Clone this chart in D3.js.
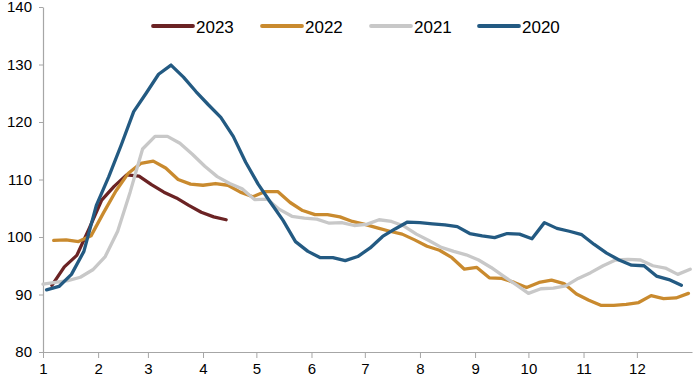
<!DOCTYPE html>
<html>
<head>
<meta charset="utf-8">
<script src="https://cdn.jsdelivr.net/npm/d3@7/dist/d3.min.js"></script>
<style>
  html, body { margin: 0; padding: 0; background: #fff; }
  svg { display: block; }
  text { font-family: "Liberation Sans", Arial, sans-serif; fill: #000; }
</style>
</head>
<body>
<svg id="chart" width="700" height="379"></svg>
<script>
// ---- data (weekly readings; x = day of year, first reading day + 7 per week) ----
const monthLabels = ["1","2","3","4","5","6","7","8","9","10","11","12"];
const monthStartDays = [0,31,59,90,120,151,181,212,243,273,304,334];
const yTicks = [80, 90, 100, 110, 120, 130, 140];

const seriesNames = ["2023", "2022", "2021", "2020"];
const seriesColors = ["#6b2324", "#c98a2e", "#c8c8c8", "#235a82"];
const seriesStartDay = [5, 6, 0, 2];

const values2023 = [91.6, 94.8, 96.8, 101.5, 106.4, 108.8, 110.8, 110.6, 109.1, 107.8,
  106.8, 105.5, 104.3, 103.5, 103.0];

const values2022 = [99.4, 99.5, 99.2, 100.2, 104.2, 108.0, 111.1, 112.8, 113.2, 112.0,
  110.0, 109.2, 109.0, 109.3, 109.0, 107.8, 107.0, 107.9, 107.9, 106.0,
  104.6, 103.9, 103.9, 103.5, 102.7, 102.2, 101.6, 101.0, 100.5, 99.5,
  98.4, 97.7, 96.4, 94.4, 94.7, 92.9, 92.8, 92.1, 91.2, 92.1,
  92.5, 91.9, 90.1, 89.0, 88.1, 88.1, 88.3, 88.6, 89.8, 89.3,
  89.4, 90.2];

const values2021 = [91.8, 92.1, 92.4, 93.0, 94.3, 96.6, 101.0, 107.8, 115.3, 117.5,
  117.5, 116.3, 114.4, 112.3, 110.5, 109.3, 108.4, 106.5, 106.6, 104.8,
  103.6, 103.3, 103.1, 102.4, 102.5, 102.0, 102.2, 103.0, 102.7, 101.9,
  100.5, 99.4, 98.2, 97.5, 96.9, 96.0, 94.7, 93.2, 91.7, 90.2,
  91.0, 91.1, 91.5, 92.8, 93.8, 95.0, 96.0, 96.1, 96.0, 95.0,
  94.6, 93.5, 94.4];

const values2020 = [90.8, 91.4, 93.5, 97.5, 105.5, 110.5, 116.0, 121.8, 125.0, 128.3,
  129.9, 127.8, 125.3, 123.0, 120.8, 117.5, 113.0, 109.2, 106.0, 102.9,
  99.2, 97.5, 96.4, 96.4, 95.9, 96.6, 98.1, 100.1, 101.4, 102.6,
  102.5, 102.3, 102.1, 101.8, 100.6, 100.2, 99.9, 100.6, 100.5, 99.7,
  102.5, 101.5, 101.0, 100.4, 98.7, 97.2, 96.0, 95.1, 95.0, 93.2,
  92.6, 91.6];

const seriesValues = [values2023, values2022, values2021, values2020];

// ---- layout ----
const svg = d3.select("#chart");
const x = d3.scaleLinear().domain([0, 365]).range([43, 692]);
const y = d3.scaleLinear().domain([80, 140]).range([352, 7]);

// axes
const xAxis = d3.axisBottom(x)
  .tickValues(monthStartDays)
  .tickFormat((d, i) => monthLabels[i])
  .tickSizeInner(6).tickSizeOuter(0).tickPadding(5);
const gx = svg.append("g").attr("transform", `translate(0,${y(80)})`).call(xAxis);
gx.select(".domain").attr("stroke", "#a6a6a6").attr("stroke-width", 1.2);
gx.selectAll(".tick line").attr("stroke", "#a6a6a6");
gx.selectAll(".tick text").attr("font-size", 15).attr("fill", "#000")
  .style("font-family", '"Liberation Sans", Arial, sans-serif');

const yAxis = d3.axisLeft(y).tickValues(yTicks).tickFormat(d3.format("d"))
  .tickSizeInner(4).tickSizeOuter(0).tickPadding(7);
const gy = svg.append("g").attr("transform", `translate(${x(0)},0)`).call(yAxis);
gy.select(".domain").attr("stroke", "#a6a6a6").attr("stroke-width", 1.2);
gy.selectAll(".tick line").attr("stroke", "#a6a6a6");
gy.selectAll(".tick text").attr("font-size", 15).attr("fill", "#000")
  .style("font-family", '"Liberation Sans", Arial, sans-serif');

// lines
const line = d3.line().x(d => x(d.day)).y(d => y(d.v));
seriesNames.forEach((name, i) => {
  const pts = seriesValues[i].map((v, k) => ({ day: seriesStartDay[i] + 7 * k, v }));
  svg.append("path")
    .datum(pts)
    .attr("fill", "none")
    .attr("stroke", seriesColors[i])
    .attr("stroke-width", 3.3)
    .attr("stroke-linejoin", "round")
    .attr("stroke-linecap", "round")
    .attr("d", line);
});

// legend
const legendX = [153, 262, 371, 479];
const legend = svg.append("g");
seriesNames.forEach((name, i) => {
  const g = legend.append("g").attr("transform", `translate(${legendX[i]},26)`);
  g.append("line").attr("x1", 0).attr("x2", 40).attr("y1", 0).attr("y2", 0)
    .attr("stroke", seriesColors[i]).attr("stroke-width", 3.8).attr("stroke-linecap", "round");
  g.append("text").attr("x", 43).attr("y", 6.5).attr("font-size", 17).text(name);
});
</script>
</body>
</html>
